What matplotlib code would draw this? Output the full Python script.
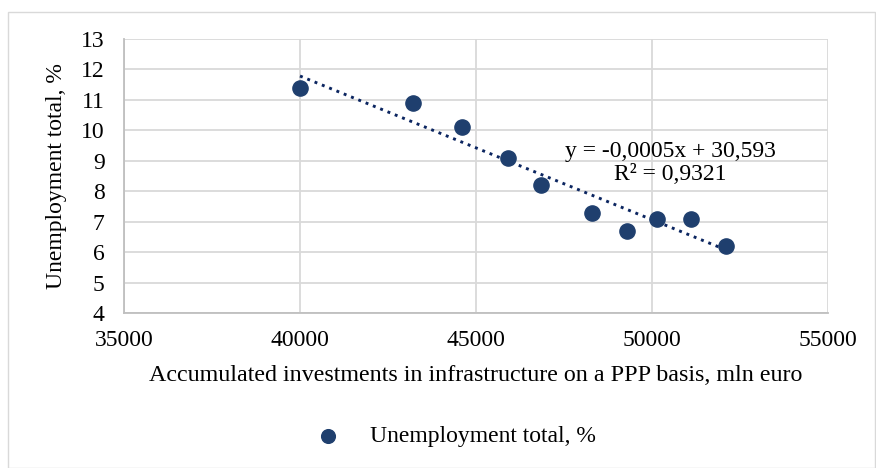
import matplotlib
matplotlib.use("Agg")
import matplotlib.pyplot as plt
import numpy as np
from matplotlib.patches import Rectangle

investments = [40000, 43200, 44600, 45900, 46850, 48300, 49300, 50150, 51100, 52100]
unemployment = [11.4, 10.9, 10.1, 9.1, 8.2, 7.3, 6.7, 7.1, 7.1, 6.2]
series_name = "Unemployment total, %"
x_label = "Accumulated investments in infrastructure on a PPP basis, mln euro"
y_label = "Unemployment total, %"
eq_text = "y = -0,0005x + 30,593\nR² = 0,9321"

plt.rcParams['font.family'] = ['Liberation Serif', 'DejaVu Serif']

W, H = 876, 468
fig = plt.figure(figsize=(W / 100, H / 100), dpi=100)
fig.patches.append(Rectangle((8 / W, 0), 1 - 8 / W - 0.001, 1 - 12 / H, transform=fig.transFigure,
                             fill=False, edgecolor='#d9d9d9', linewidth=1))
ax = fig.add_axes([124 / W, 1 - 313 / H, (828 - 124) / W, (313 - 39) / H])

color = '#1f3f6e'
ax.scatter(investments, unemployment, s=120, color=color, zorder=3, label=series_name)

coef = np.polyfit(investments, unemployment, 1)
xs = np.array([min(investments), max(investments)])
ax.plot(xs, np.polyval(coef, xs), linestyle=(0, (1, 1.7)), color='#0b2560', linewidth=2.1, zorder=2)

fig.text(670 / W, 1 - 163 / H, eq_text, fontsize=17, ha='center', va='center', linespacing=1.15)

ax.set_xlim(35000, 55000)
ax.set_ylim(4, 13)
ax.set_xticks(np.arange(35000, 55001, 5000))
ax.set_yticks(np.arange(4, 14, 1))
ax.grid(True, color='#d9d9d9', linewidth=1.3)
ax.set_axisbelow(True)
for s in ['top', 'right']:
    ax.spines[s].set_visible(False)
for s in ['left', 'bottom']:
    ax.spines[s].set_color('#bfbfbf')
    ax.spines[s].set_linewidth(1.3)
ax.tick_params(length=0, labelsize=17)
ax.tick_params(axis='x', pad=12)
ax.tick_params(axis='y', pad=14)
ax.set_xlabel(x_label, fontsize=17.3, labelpad=10)
ax.set_ylabel(y_label, fontsize=17, labelpad=10)

fig.legend(loc='center', bbox_to_anchor=(450 / W, 1 - 436 / H), frameon=False, fontsize=17,
           handletextpad=0.75, markerscale=0.9)

fig.savefig('out.png', dpi=100)
